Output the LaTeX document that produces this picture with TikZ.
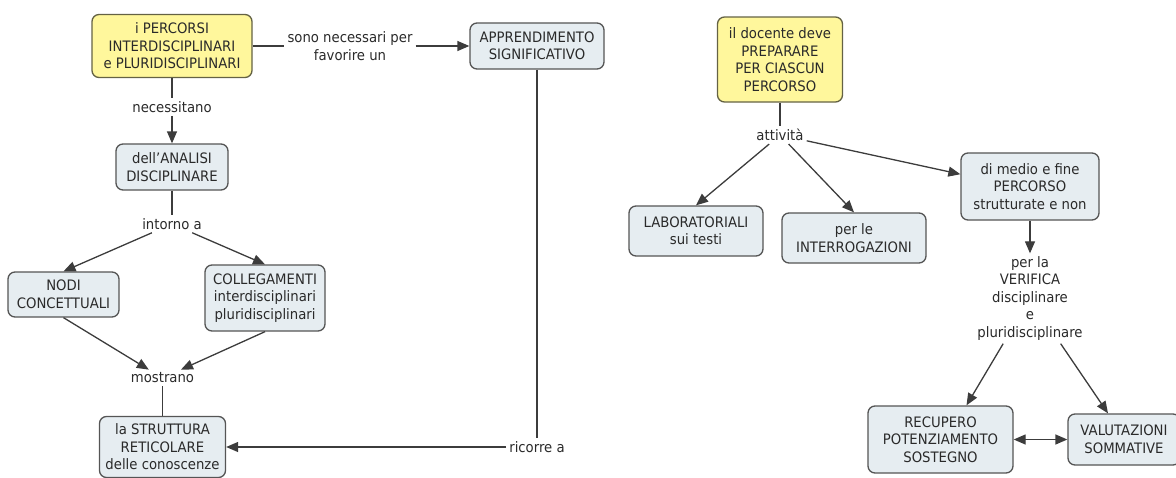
\documentclass[tikz,border=0pt]{standalone}
\usepackage{fontspec}
\setmainfont{DejaVu Sans}[FakeStretch=0.92]
\usepackage{tikz}
\usetikzlibrary{arrows.meta,calc}

\definecolor{boxfill}{HTML}{E6EDF1}
\definecolor{yellowfill}{HTML}{FFF79C}
\definecolor{bordergray}{HTML}{555555}
\definecolor{yellowborder}{HTML}{646244}
\definecolor{edgegray}{HTML}{3C3C3C}
\definecolor{textgray}{HTML}{2A2A2A}

\begin{document}
\begin{tikzpicture}[x=1pt, y=-1pt,
        every node/.style={font=\fontsize{14.4}{17.5}\selectfont, text=textgray},
        boxnode/.style={rectangle, rounded corners=7pt, draw=bordergray, line width=1.3pt, fill=boxfill, align=center, inner sep=3pt},
        yellownode/.style={boxnode, fill=yellowfill, draw=yellowborder},
        linknode/.style={align=center, inner sep=3pt},
        link/.style={draw=edgegray, line width=1.3pt},
        arrow/.style={link, -{Triangle[length=12pt,width=10pt]}},
        biarrow/.style={link, {Triangle[length=12pt,width=10pt]}-{Triangle[length=12pt,width=10pt]}},
    ]
    \useasboundingbox (0,0) rectangle (1176,477);

    % Nodes (left map)
    \node[yellownode, minimum width=160pt, minimum height=63pt] (percorsi) at (172,46) {i PERCORSI\\INTERDISCIPLINARI\\e PLURIDISCIPLINARI};
    \node[linknode] (necessari) at (350,46) {sono necessari per\\favorire un};
    \node[boxnode, minimum width=134pt, minimum height=46pt] (apprend) at (537,46) {APPRENDIMENTO\\SIGNIFICATIVO};

    \node[linknode] (necessitano) at (172,107) {necessitano};
    \node[boxnode, minimum width=112pt, minimum height=46pt] (analisi) at (172,167) {dell'ANALISI\\DISCIPLINARE};
    \node[linknode] (intorno) at (172,224) {intorno a};

    \node[boxnode, minimum width=111pt, minimum height=45pt] (nodi) at (63.5,294.5) {NODI\\CONCETTUALI};
    \node[boxnode, minimum width=120pt, minimum height=66pt] (colleg) at (265,298) {COLLEGAMENTI\\interdisciplinari\\pluridisciplinari};

    \node[linknode] (mostrano) at (162.5,378) {mostrano};
    \node[boxnode, minimum width=126pt, minimum height=61pt] (struttura) at (162.5,447) {la STRUTTURA\\RETICOLARE\\delle conoscenze};
    \node[linknode] (ricorre) at (537,447) {ricorre a};

    % Nodes (right map)
    \node[yellownode, minimum width=125pt, minimum height=85pt] (docente) at (780,59.5) {il docente deve\\PREPARARE\\PER CIASCUN\\PERCORSO};
    \node[linknode] (attivita) at (780,135) {attività};

    \node[boxnode, minimum width=134pt, minimum height=50pt] (lab) at (696,231) {LABORATORIALI\\sui testi};
    \node[boxnode, minimum width=144pt, minimum height=50pt] (interrog) at (854,238) {per le\\INTERROGAZIONI};
    \node[boxnode, minimum width=138pt, minimum height=67pt] (medio) at (1030,186.5) {di medio e fine\\PERCORSO\\strutturate e non};

    \node[linknode] (verifica) at (1030,298.5) {per la\\VERIFICA\\disciplinare\\e\\pluridisciplinare};

    \node[boxnode, minimum width=145pt, minimum height=67pt] (recupero) at (940.5,439.5) {RECUPERO\\POTENZIAMENTO\\SOSTEGNO};
    \node[boxnode, minimum width=112pt, minimum height=51pt] (valutazioni) at (1124,439.5) {VALUTAZIONI\\SOMMATIVE};

    % Edges (left map)
    \draw[link] (percorsi) -- (necessari);
    \draw[arrow] (necessari) -- (apprend);
    \draw[link] (percorsi) -- (necessitano);
    \draw[arrow] (necessitano) -- (analisi);
    \draw[link] (analisi) -- (intorno);
    \draw[arrow] (intorno) -- (nodi.north);
    \draw[arrow] (intorno) -- (colleg.north);
    \draw[arrow] (nodi.south) -- (mostrano);
    \draw[arrow] (colleg.south) -- (mostrano);
    \draw[link] (mostrano) -- (struttura);
    \draw[link] (apprend) -- (ricorre);
    \draw[arrow] (ricorre) -- (struttura);

    % Edges (right map)
    \draw[link] (docente) -- (attivita);
    \draw[arrow] (attivita) -- (lab.north);
    \draw[arrow] (attivita) -- (interrog.north);
    \draw[arrow] (attivita) -- (medio.170);
    \draw[arrow] (medio) -- (verifica);
    \draw[arrow] (verifica) -- ($(recupero.north)+(26,0)$);
    \draw[arrow] (verifica) -- ($(valutazioni.north)+(-16,0)$);
    \draw[biarrow] (recupero) -- (valutazioni);
\end{tikzpicture}
\end{document}
